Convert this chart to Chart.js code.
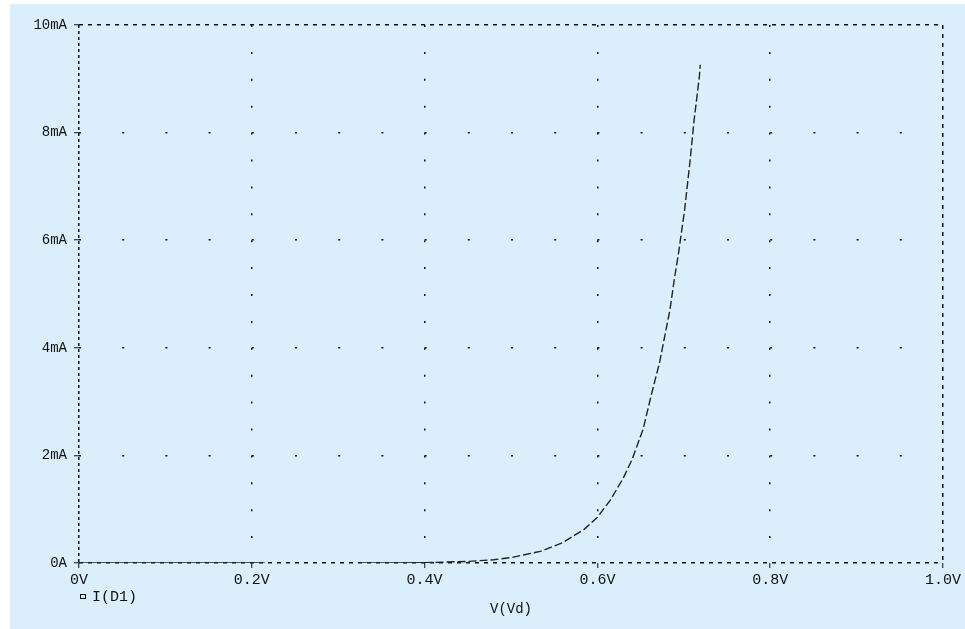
<!DOCTYPE html>
<html>
    <head>
        <meta charset="UTF-8">
        <title>Diode I-V</title>
        <script src="https://cdn.jsdelivr.net/npm/chart.js@4/dist/chart.umd.min.js"></script>
        <style>
            body { margin:0; background:#ffffff; }
            #plotBox {
                position:absolute; left:10px; top:4px;
                width:955px; height:625px;
                background:#dbeefc;
            }
        </style>
    </head>
    <body>
        <div id="plotBox"><canvas id="chart"></canvas></div>

        <script>
            // values (V in volts, I in mA)
            const voltage = [0, 0.215, 0.27, 0.325, 0.37, 0.4, 0.45, 0.48, 0.5, 0.535, 0.56, 0.585, 0.6, 0.615,
                             0.63, 0.64, 0.653, 0.662, 0.672, 0.678, 0.684, 0.689, 0.694, 0.701, 0.707, 0.712, 0.718, 0.719];
            const current = [0, 0, null, 0, 0, 0.005, 0.03, 0.06, 0.1, 0.22, 0.38, 0.63, 0.85, 1.17,
                             1.58, 1.92, 2.49, 3.1, 3.73, 4.22, 4.71, 5.27, 5.77, 6.57, 7.44, 8.24, 9.04, 9.26];

            const xTickLabels = ["0V", "0.2V", "0.4V", "0.6V", "0.8V", "1.0V"];
            const yTickLabels = ["0A", "2mA", "4mA", "6mA", "8mA", "10mA"];
            const seriesName = "I(D1)";
            const xTitle = "V(Vd)";

            const ink = "#111111";
            const mono = "'Liberation Mono', 'DejaVu Sans Mono', monospace";

            const points = voltage.map((v,i)=>({x:v, y:current[i]}));

            // dotted grid, dashed frame on the outer lines
            function gridDash(ctx, vertical){
                const area = ctx.chart.chartArea;
                const last = vertical ? xTickLabels.length-1 : yTickLabels.length-1;
                if (ctx.index === last) return [4,5];
                if (ctx.index === 0) return vertical ? [3,3] : [4,5];
                if (!area) return [2, 25];
                const span = vertical ? area.bottom-area.top : area.right-area.left;
                return [2, span/20-2];
            }

            const legendPlugin = {
                id:"pspiceLegend",
                afterDraw(chart){
                    const {ctx, chartArea} = chart;
                    const label = chart.data.datasets[0].label;
                    ctx.save();
                    ctx.strokeStyle = ink;
                    ctx.lineWidth = 1;
                    ctx.strokeRect(chartArea.left+1.5, chartArea.bottom+31.5, 5, 4);
                    ctx.fillStyle = ink;
                    ctx.font = "15px " + mono;
                    ctx.textBaseline = "middle";
                    ctx.fillText(label, chartArea.left+13, chartArea.bottom+34);
                    ctx.restore();
                }
            };

            new Chart(document.getElementById("chart"), {
                type:"line",
                data:{
                    datasets:[{
                        label:seriesName,
                        data:points,
                        borderColor:"#222222",
                        borderWidth:1.4,
                        pointRadius:0,
                        tension:0,
                        spanGaps:false,
                        segment:{
                            borderDash: s => (s.p1.parsed.y > 0.02 ? [8,3] : [])
                        }
                    }]
                },
                options:{
                    responsive:true,
                    maintainAspectRatio:false,
                    animation:false,
                    layout:{ padding:{ left:0, top:21, right:22, bottom:0 } },
                    plugins:{
                        legend:{ display:false },
                        tooltip:{ enabled:false }
                    },
                    scales:{
                        x:{
                            type:"linear",
                            min:0, max:1,
                            afterFit(scale){ scale.height = 66; },
                            ticks:{
                                stepSize:0.2,
                                padding:3,
                                color:ink,
                                font:{ family:mono, size:15 },
                                maxRotation:0,
                                callback:(v,i)=>xTickLabels[i]
                            },
                            grid:{
                                color:ink,
                                lineWidth:1.5,
                                tickLength:5,
                                tickColor:ink,
                                tickWidth:1,
                                tickBorderDash:[]
                            },
                            border:{
                                display:false,
                                dash:ctx=>gridDash(ctx,true)
                            },
                            title:{
                                display:true,
                                text:xTitle,
                                color:ink,
                                font:{ family:mono, size:14 },
                                padding:{ top:0, bottom:11 }
                            }
                        },
                        y:{
                            min:0, max:10,
                            afterFit(scale){ scale.width = 69; },
                            ticks:{
                                stepSize:2,
                                padding:7,
                                color:ink,
                                font:{ family:mono, size:14 },
                                callback:(v,i)=>yTickLabels[i]
                            },
                            grid:{
                                color:ink,
                                lineWidth:1.5,
                                tickLength:5,
                                tickColor:ink,
                                tickWidth:1,
                                tickBorderDash:[]
                            },
                            border:{
                                display:false,
                                dash:ctx=>gridDash(ctx,false)
                            }
                        }
                    }
                },
                plugins:[legendPlugin]
            });
        </script>
    </body>
</html>
